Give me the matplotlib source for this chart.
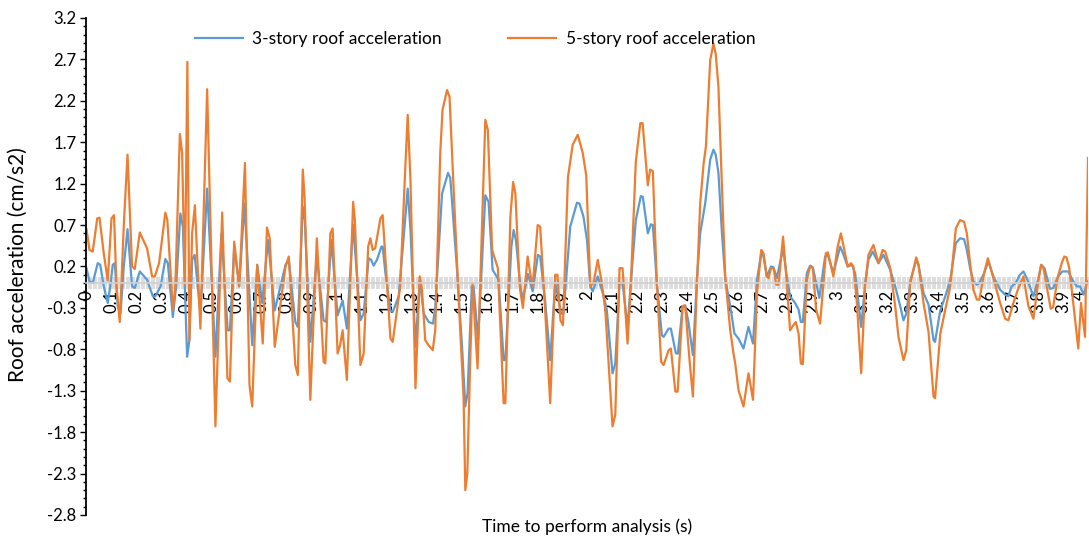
import matplotlib
matplotlib.use('Agg')
import matplotlib.pyplot as plt
from matplotlib.ticker import MultipleLocator
from matplotlib.transforms import ScaledTranslation

plt.rcParams['font.family'] = ['Lato', 'DejaVu Sans']

# values (time in s, acceleration in cm/s2)
time_3 = [0.000, 0.012, 0.025, 0.045, 0.055, 0.069, 0.085, 0.095, 0.105, 0.113, 0.125, 0.136, 0.149, 0.164,
          0.182, 0.193, 0.213, 0.242, 0.265, 0.275, 0.296, 0.315, 0.325, 0.345, 0.358, 0.375, 0.385, 0.402,
          0.411, 0.422, 0.432, 0.455, 0.482, 0.515, 0.539, 0.564, 0.573, 0.590, 0.610, 0.631, 0.662, 0.682,
          0.702, 0.725, 0.752, 0.795, 0.808, 0.834, 0.844, 0.864, 0.872, 0.894, 0.920, 0.947, 0.957, 0.978,
          1.003, 1.023, 1.040, 1.065, 1.094, 1.107, 1.127, 1.137, 1.147, 1.160, 1.178, 1.183, 1.194, 1.214,
          1.223, 1.247, 1.267, 1.283, 1.294, 1.314, 1.331, 1.347, 1.367, 1.384, 1.393, 1.420, 1.444, 1.453,
          1.480, 1.500, 1.513, 1.522, 1.539, 1.546, 1.564, 1.593, 1.606, 1.622, 1.646, 1.666, 1.673, 1.697,
          1.706, 1.715, 1.733, 1.743, 1.763, 1.782, 1.803, 1.812, 1.832, 1.852, 1.872, 1.896, 1.905, 1.932,
          1.959, 1.969, 1.985, 1.999, 2.012, 2.022, 2.042, 2.066, 2.078, 2.101, 2.112, 2.129, 2.141, 2.161,
          2.174, 2.194, 2.214, 2.222, 2.242, 2.254, 2.262, 2.278, 2.298, 2.305, 2.325, 2.334, 2.354, 2.362,
          2.381, 2.391, 2.404, 2.422, 2.438, 2.451, 2.471, 2.491, 2.504, 2.513, 2.524, 2.538, 2.551, 2.571,
          2.588, 2.604, 2.624, 2.644, 2.662, 2.678, 2.695, 2.704, 2.717, 2.734, 2.744, 2.757, 2.782, 2.797,
          2.810, 2.830, 2.844, 2.853, 2.861, 2.877, 2.890, 2.901, 2.917, 2.927, 2.950, 2.961, 2.983, 3.010,
          3.024, 3.040, 3.057, 3.070, 3.094, 3.110, 3.123, 3.140, 3.163, 3.183, 3.210, 3.230, 3.250, 3.263,
          3.274, 3.292, 3.314, 3.323, 3.343, 3.363, 3.383, 3.389, 3.410, 3.430, 3.450, 3.472, 3.489, 3.505,
          3.516, 3.529, 3.542, 3.556, 3.566, 3.585, 3.602, 3.622, 3.649, 3.669, 3.682, 3.695, 3.711, 3.728,
          3.742, 3.755, 3.782, 3.802, 3.813, 3.826, 3.848, 3.861, 3.881, 3.897, 3.921, 3.937, 3.955, 3.968,
          3.982, 3.995, 4.000]
accel_3 = [0.18, 0.02, 0.00, 0.24, 0.22, -0.04, -0.24, -0.04, 0.22, 0.24, -0.29, -0.37, 0.20, 0.65,
           -0.04, -0.06, 0.14, 0.04, -0.16, -0.16, -0.04, 0.29, 0.24, -0.41, -0.04, 0.84, 0.68, -0.89,
           -0.69, 0.28, 0.34, -0.37, 1.14, -0.89, 0.60, -0.57, -0.57, 0.44, -0.04, 0.96, -0.75, 0.22,
           -0.24, 0.52, -0.33, 0.22, 0.28, -0.47, -0.53, 0.92, 0.76, -0.71, 0.32, -0.45, -0.47, 0.52,
           -0.39, -0.21, -0.55, 0.70, -0.45, -0.37, 0.30, 0.28, 0.21, 0.28, 0.44, 0.44, 0.12, -0.33,
           -0.35, -0.16, 0.56, 1.14, 0.64, -0.77, 0.04, -0.37, -0.47, -0.49, -0.29, 1.08, 1.33, 1.27,
           0.16, -0.77, -1.49, -1.33, -0.04, -0.04, -0.69, 1.06, 0.98, 0.16, 0.04, -0.93, -0.93, 0.44,
           0.64, 0.52, -0.04, -0.20, 0.11, -0.10, 0.34, 0.32, -0.22, -0.93, 0.00, -0.37, -0.37, 0.68,
           0.97, 0.96, 0.80, 0.52, -0.04, -0.10, 0.08, -0.16, -0.32, -1.09, -0.97, 0.00, 0.00, -0.53,
           0.00, 0.76, 1.05, 1.04, 0.60, 0.71, 0.70, 0.00, -0.63, -0.65, -0.55, -0.55, -0.85, -0.85,
           -0.28, -0.27, -0.47, -0.87, 0.04, 0.60, 0.96, 1.49, 1.61, 1.55, 1.33, 0.60, 0.06, -0.28,
           -0.61, -0.67, -0.79, -0.53, -0.73, 0.04, 0.36, 0.32, 0.08, 0.20, 0.19, 0.06, 0.42, 0.08,
           -0.16, -0.24, -0.32, -0.47, -0.47, 0.12, 0.21, 0.19, -0.04, -0.18, 0.32, 0.34, 0.12, 0.44,
           0.34, 0.20, 0.22, 0.12, -0.53, 0.00, 0.28, 0.38, 0.24, 0.34, 0.16, -0.04, -0.28, -0.45,
           -0.37, 0.04, 0.28, 0.22, -0.12, -0.26, -0.69, -0.71, -0.33, -0.16, 0.04, 0.48, 0.54, 0.53,
           0.40, 0.18, 0.02, -0.02, 0.00, 0.12, 0.26, 0.08, -0.08, -0.14, -0.16, -0.04, 0.00, 0.10,
           0.14, 0.06, -0.16, 0.06, 0.22, 0.18, -0.07, -0.06, 0.08, 0.14, 0.14, 0.04, -0.04, -0.04,
           -0.14, 0.00, 0.02]

time_5 = [0.000, 0.012, 0.025, 0.043, 0.052, 0.069, 0.085, 0.100, 0.110, 0.120, 0.133, 0.150, 0.164, 0.182,
          0.193, 0.213, 0.242, 0.262, 0.273, 0.290, 0.315, 0.323, 0.345, 0.355, 0.373, 0.382, 0.393, 0.403,
          0.411, 0.422, 0.433, 0.455, 0.482, 0.515, 0.542, 0.563, 0.573, 0.590, 0.610, 0.633, 0.651, 0.662,
          0.682, 0.704, 0.721, 0.732, 0.752, 0.795, 0.808, 0.834, 0.844, 0.864, 0.871, 0.894, 0.920, 0.947,
          0.954, 0.974, 0.983, 1.003, 1.013, 1.023, 1.040, 1.065, 1.072, 1.094, 1.107, 1.125, 1.134, 1.143,
          1.153, 1.174, 1.183, 1.214, 1.223, 1.253, 1.273, 1.283, 1.294, 1.314, 1.331, 1.340, 1.353, 1.366,
          1.383, 1.393, 1.413, 1.422, 1.440, 1.450, 1.466, 1.486, 1.506, 1.513, 1.521, 1.533, 1.542, 1.562,
          1.593, 1.603, 1.620, 1.643, 1.666, 1.673, 1.693, 1.704, 1.713, 1.730, 1.743, 1.762, 1.772, 1.782,
          1.802, 1.812, 1.832, 1.852, 1.872, 1.881, 1.893, 1.903, 1.923, 1.942, 1.962, 1.982, 1.996, 2.012,
          2.025, 2.042, 2.056, 2.072, 2.101, 2.112, 2.129, 2.141, 2.161, 2.174, 2.194, 2.212, 2.221, 2.242,
          2.251, 2.262, 2.278, 2.295, 2.305, 2.325, 2.334, 2.352, 2.361, 2.381, 2.391, 2.411, 2.422, 2.435,
          2.451, 2.465, 2.474, 2.491, 2.504, 2.513, 2.524, 2.538, 2.551, 2.571, 2.584, 2.591, 2.604, 2.624,
          2.644, 2.662, 2.678, 2.695, 2.704, 2.717, 2.724, 2.734, 2.744, 2.755, 2.764, 2.782, 2.797, 2.810,
          2.823, 2.833, 2.844, 2.853, 2.861, 2.877, 2.890, 2.901, 2.914, 2.930, 2.953, 2.961, 2.983, 3.000,
          3.013, 3.024, 3.040, 3.053, 3.063, 3.077, 3.094, 3.110, 3.123, 3.143, 3.163, 3.180, 3.190, 3.210,
          3.230, 3.243, 3.263, 3.274, 3.290, 3.314, 3.323, 3.343, 3.363, 3.383, 3.389, 3.410, 3.430, 3.450,
          3.472, 3.489, 3.505, 3.516, 3.529, 3.542, 3.556, 3.566, 3.585, 3.600, 3.622, 3.649, 3.669, 3.682,
          3.702, 3.722, 3.742, 3.762, 3.782, 3.802, 3.813, 3.822, 3.835, 3.851, 3.861, 3.878, 3.895, 3.905,
          3.914, 3.925, 3.941, 3.961, 3.972, 3.988, 4.000]
accel_5 = [0.65, 0.40, 0.38, 0.78, 0.79, 0.36, 0.03, 0.78, 0.82, -0.04, -0.47, 0.76, 1.55, 0.20,
           0.17, 0.61, 0.42, 0.08, 0.08, 0.24, 0.85, 0.76, -0.32, -0.04, 1.80, 1.57, -0.02, 2.67,
           -0.69, 0.60, 0.94, -0.55, 2.34, -1.73, 0.85, -1.15, -1.19, 0.50, -0.04, 1.45, -1.23, -1.49,
           0.22, -0.73, 0.67, 0.54, -0.77, 0.20, 0.32, -0.99, -1.11, 1.37, 1.04, -1.41, 0.54, -0.95,
           -0.97, 0.60, 0.66, -0.85, -0.75, -0.57, -1.17, 0.98, 0.76, -0.99, -0.85, 0.44, 0.54, 0.40,
           0.42, 0.78, 0.82, -0.67, -0.71, -0.04, 1.37, 2.03, 1.24, -1.27, 0.08, -0.08, -0.69, -0.75,
           -0.81, -0.57, 1.57, 2.09, 2.33, 2.25, 1.16, -0.16, -1.37, -2.50, -2.30, -0.89, 0.00, -1.03,
           1.97, 1.85, 0.40, 0.18, -1.45, -1.45, 0.80, 1.22, 1.08, -0.04, -0.30, 0.32, 0.12, -0.04,
           0.70, 0.68, -0.33, -1.45, 0.10, 0.10, -0.45, -0.51, 1.28, 1.67, 1.79, 1.57, 1.30, -0.04,
           0.00, 0.28, 0.04, -0.32, -1.73, -1.59, 0.18, 0.18, -0.73, -0.02, 1.47, 1.93, 1.93, 1.18,
           1.37, 1.35, 0.00, -0.95, -0.99, -0.81, -0.79, -1.31, -1.31, -0.28, -0.27, -1.02, -1.37, -0.25,
           0.96, 1.45, 1.65, 2.69, 2.89, 2.77, 2.37, 1.16, 0.08, -0.57, -0.85, -0.97, -1.29, -1.49,
           -1.09, -1.41, -0.12, 0.40, 0.36, 0.08, 0.06, 0.18, 0.18, -0.02, -0.02, 0.56, 0.00, -0.57,
           -0.51, -0.47, -0.61, -0.97, -0.98, 0.04, 0.20, 0.18, -0.32, -0.49, 0.36, 0.37, 0.08, 0.44,
           0.60, 0.44, 0.20, 0.24, 0.20, -0.24, -1.09, -0.04, 0.34, 0.46, 0.24, 0.40, 0.38, 0.18,
           -0.28, -0.65, -0.93, -0.81, 0.00, 0.31, 0.22, -0.24, -0.59, -1.37, -1.39, -0.61, -0.32, -0.04,
           0.66, 0.76, 0.74, 0.60, 0.24, -0.08, -0.20, -0.20, 0.12, 0.30, 0.06, -0.24, -0.43, -0.45,
           -0.24, -0.06, 0.08, -0.28, -0.43, 0.04, 0.22, 0.18, -0.04, -0.31, -0.29, 0.06, 0.24, 0.32,
           0.31, 0.18, -0.24, -0.79, -0.24, -0.65, 1.51]

y_ticks = [-2.8, -2.3, -1.8, -1.3, -0.8, -0.3, 0.2, 0.7, 1.2, 1.7, 2.2, 2.7, 3.2]
x_ticks = [i / 10 for i in range(41)]
x_labels = ['%g' % t for t in x_ticks]

fig = plt.figure(figsize=(10.89, 5.37), dpi=100)
ax = fig.add_axes([0.0794, 0.041, 0.9197, 0.9255])

ax.plot(time_3, accel_3, color='#5B9BD5', lw=1.6, label='3-story roof acceleration')
ax.plot(time_5, accel_5, color='#ED7D31', lw=1.6, label='5-story roof acceleration')

ax.set_xlim(0, 4.0)
ax.set_ylim(-2.8, 3.2)

# y axis: black, with minor ticks
ax.set_yticks(y_ticks)
ax.set_yticklabels(['%.1f' % v for v in y_ticks])
ax.yaxis.set_minor_locator(MultipleLocator(0.1))
ax.tick_params(axis='y', which='major', direction='out', length=4, width=1, color='black',
               labelsize=12, pad=3)
ax.tick_params(axis='y', which='minor', direction='out', length=2.5, width=1, color='black')
ax.spines['left'].set_linewidth(1.3)
ax.spines['left'].set_color('black')

# x axis crosses at zero, light grey tick band
ax.spines['bottom'].set_position(('data', 0))
ax.spines['bottom'].set_color('#d0d0d0')
ax.spines['bottom'].set_linewidth(1.2)
ax.set_xticks(x_ticks)
ax.set_xticklabels(x_labels, rotation=90)
ax.xaxis.set_minor_locator(MultipleLocator(0.01))
ax.tick_params(axis='x', which='both', direction='inout', length=8.5, width=1.1, color='#d3d3d3',
               labelsize=12, pad=1)
last = ax.get_xticklabels()[-1]
last.set_transform(last.get_transform() + ScaledTranslation(-8 / 100, 0, fig.dpi_scale_trans))
ax.spines['top'].set_visible(False)
ax.spines['right'].set_visible(False)

ax.legend(loc='center', bbox_to_anchor=(0.388, 0.958), ncol=2, frameon=False, fontsize=12.5,
          handlelength=2.76, columnspacing=3.8, handletextpad=0.57)

fig.text(18 / 1089, 0.5065, 'Roof acceleration (cm/s2)', rotation=90, fontsize=15,
         ha='center', va='center')
fig.text(0.539, 0.0186, 'Time to perform analysis (s)', fontsize=12.5, ha='center', va='center')

fig.savefig('out.png', dpi=100)
